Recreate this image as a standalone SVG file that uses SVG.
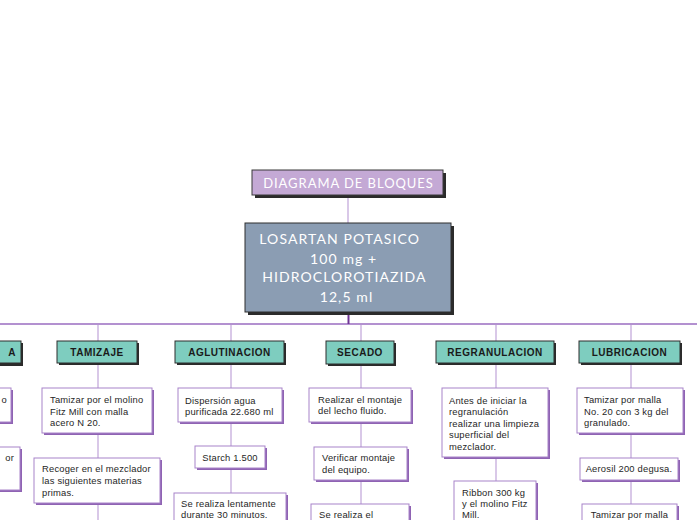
<svg xmlns="http://www.w3.org/2000/svg" width="697" height="520" viewBox="0 0 697 520">
<style>
.sh{fill:#2b2b2b}
.title{fill:#c4a9d5;stroke:#3a3a3a;stroke-width:1}
.main{fill:#8b9db3;stroke:#2e2e2e;stroke-width:1}
.cat{fill:#7ecdbf;stroke:#2e2e2e;stroke-width:1}
.csh{fill:#8f63b3}
.child{fill:#ffffff;stroke:#a883c9;stroke-width:1}
.tw{font-family:"Lato","Liberation Sans",sans-serif;fill:#ffffff}
.tc{font-family:"Liberation Sans",Arial,sans-serif;font-weight:bold;font-size:10px;fill:#1a1a1a;letter-spacing:0.5px;text-anchor:middle}
.tt{font-family:"Liberation Sans",Arial,sans-serif;font-size:9.4px;letter-spacing:0.2px;fill:#262626}
.ln{stroke:#cdb6e0;stroke-width:1.5;fill:none}
</style>

<g id="connectors">
<line class="ln" x1="348" y1="195" x2="348" y2="223"/>
<line x1="0" y1="324" x2="697" y2="324" stroke="#9a6dc0" stroke-width="1.6"/>
<line x1="348.5" y1="312" x2="348.5" y2="324" stroke="#6f3596" stroke-width="2"/>
<line class="ln" x1="98" y1="325" x2="98" y2="520"/>
<line class="ln" x1="231" y1="325" x2="231" y2="520"/>
<line class="ln" x1="361" y1="325" x2="361" y2="520"/>
<line class="ln" x1="496" y1="325" x2="496" y2="520"/>
<line class="ln" x1="631" y1="325" x2="631" y2="520"/>
</g>

<g id="title">
<rect class="sh" x="255" y="173" width="191" height="25"/>
<rect class="title" x="252" y="170" width="191" height="25"/>
<text class="tw" x="348.5" y="187.5" font-size="13" letter-spacing="0.95" text-anchor="middle">DIAGRAMA DE BLOQUES</text>
</g>

<g id="main">
<rect class="sh" x="248" y="226" width="206" height="89"/>
<rect class="main" x="245" y="223" width="206" height="89"/>
<text class="tw" font-size="14" letter-spacing="1.1" text-anchor="middle">
<tspan x="342" y="244">LOSARTAN POTASICO</tspan>
<tspan x="346" y="264">100 mg +</tspan>
<tspan x="346.5" y="282">HIDROCLOROTIAZIDA</tspan>
<tspan x="346.5" y="302">12,5 ml</tspan>
</text>
</g>

<g id="cat-left">
<rect class="sh" x="-40" y="343" width="63" height="23"/>
<rect class="cat" x="-42" y="341" width="63" height="22"/>
<text class="tc" x="16" y="355.5" style="text-anchor:end">A</text>
</g>
<g id="left-c1">
<rect class="csh" x="-40" y="390" width="53" height="34"/>
<rect class="child" x="-42" y="388" width="53" height="34"/>
<text class="tt" x="7" y="403" text-anchor="end">o</text>
</g>
<g id="left-c2">
<rect class="csh" x="-40" y="449" width="62" height="43"/>
<rect class="child" x="-42" y="447" width="62" height="43"/>
<text class="tt" x="14" y="461" text-anchor="end">or</text>
</g>

<g id="tamizaje">
<rect class="sh" x="59" y="343" width="80" height="22"/>
<rect class="cat" x="57" y="341" width="80" height="22"/>
<text class="tc" x="97" y="355.5">TAMIZAJE</text>
</g>
<g id="tam-1">
<rect class="csh" x="44" y="390" width="110" height="45"/>
<rect class="child" x="42" y="388" width="110" height="45"/>
<text class="tt"><tspan x="50" y="403">Tamizar por el molino</tspan><tspan x="50" y="414.5">Fitz Mill con malla</tspan><tspan x="50" y="426">acero N 20.</tspan></text>
</g>
<g id="tam-2">
<rect class="csh" x="36" y="460" width="126" height="45"/>
<rect class="child" x="34" y="458" width="126" height="45"/>
<text class="tt"><tspan x="42" y="471.5">Recoger en el mezclador</tspan><tspan x="42" y="484">las siguientes materias</tspan><tspan x="42" y="496">primas.</tspan></text>
</g>

<g id="aglutinacion">
<rect class="sh" x="177" y="343" width="109" height="22"/>
<rect class="cat" x="175" y="341" width="109" height="22"/>
<text class="tc" x="229.5" y="355.5">AGLUTINACION</text>
</g>
<g id="agl-1">
<rect class="csh" x="180" y="390" width="104" height="34"/>
<rect class="child" x="178" y="388" width="104" height="34"/>
<text class="tt"><tspan x="185" y="403.5">Dispersión agua</tspan><tspan x="185" y="415">purificada 22.680 ml</tspan></text>
</g>
<g id="agl-2">
<rect class="csh" x="197" y="448" width="70" height="22"/>
<rect class="child" x="195" y="446" width="70" height="22"/>
<text class="tt" x="230" y="460.5" text-anchor="middle">Starch 1.500</text>
</g>
<g id="agl-3">
<rect class="csh" x="176" y="495" width="112" height="40"/>
<rect class="child" x="174" y="493" width="112" height="40"/>
<text class="tt"><tspan x="181" y="507">Se realiza lentamente</tspan><tspan x="181" y="518">durante 30 minutos.</tspan></text>
</g>

<g id="secado">
<rect class="sh" x="328" y="343" width="68" height="23"/>
<rect class="cat" x="326" y="341" width="68" height="23"/>
<text class="tc" x="360" y="356">SECADO</text>
</g>
<g id="sec-1">
<rect class="csh" x="311" y="390" width="102" height="34"/>
<rect class="child" x="309" y="388" width="102" height="34"/>
<text class="tt"><tspan x="318" y="402.5">Realizar el montaje</tspan><tspan x="318" y="414">del lecho fluido.</tspan></text>
</g>
<g id="sec-2">
<rect class="csh" x="316" y="449" width="93" height="33"/>
<rect class="child" x="314" y="447" width="93" height="33"/>
<text class="tt"><tspan x="322" y="461">Verificar montaje</tspan><tspan x="322" y="473">del equipo.</tspan></text>
</g>
<g id="sec-3">
<rect class="csh" x="313" y="506" width="98" height="30"/>
<rect class="child" x="311" y="504" width="98" height="30"/>
<text class="tt" x="319" y="518">Se realiza el</text>
</g>

<g id="regranulacion">
<rect class="sh" x="438" y="343" width="118" height="22"/>
<rect class="cat" x="436" y="341" width="118" height="22"/>
<text class="tc" x="495" y="355.5">REGRANULACION</text>
</g>
<g id="reg-1">
<rect class="csh" x="444" y="390" width="106" height="69"/>
<rect class="child" x="442" y="388" width="106" height="69"/>
<text class="tt"><tspan x="449" y="404">Antes de iniciar la</tspan><tspan x="449" y="415">regranulación</tspan><tspan x="449" y="427">realizar una limpieza</tspan><tspan x="449" y="438">superficial del</tspan><tspan x="449" y="450">mezclador.</tspan></text>
</g>
<g id="reg-2">
<rect class="csh" x="456" y="483" width="82" height="50"/>
<rect class="child" x="454" y="481" width="82" height="50"/>
<text class="tt"><tspan x="462" y="496">Ribbon 300 kg</tspan><tspan x="462" y="507">y el molino Fitz</tspan><tspan x="462" y="518">Mill.</tspan></text>
</g>

<g id="lubricacion">
<rect class="sh" x="581" y="343" width="101" height="22"/>
<rect class="cat" x="579" y="341" width="101" height="22"/>
<text class="tc" x="629.5" y="355.5">LUBRICACION</text>
</g>
<g id="lub-1">
<rect class="csh" x="579" y="390" width="106" height="45"/>
<rect class="child" x="577" y="388" width="106" height="45"/>
<text class="tt"><tspan x="584" y="403">Tamizar por malla</tspan><tspan x="584" y="414.5">No. 20 con 3 kg del</tspan><tspan x="584" y="426">granulado.</tspan></text>
</g>
<g id="lub-2">
<rect class="csh" x="582" y="460" width="98" height="22"/>
<rect class="child" x="580" y="458" width="98" height="22"/>
<text class="tt" x="629" y="472" text-anchor="middle">Aerosil 200 degusa.</text>
</g>
<g id="lub-3">
<rect class="csh" x="584" y="506" width="95" height="30"/>
<rect class="child" x="582" y="504" width="95" height="30"/>
<text class="tt" x="629.5" y="518" text-anchor="middle">Tamizar por malla</text>
</g>
</svg>
